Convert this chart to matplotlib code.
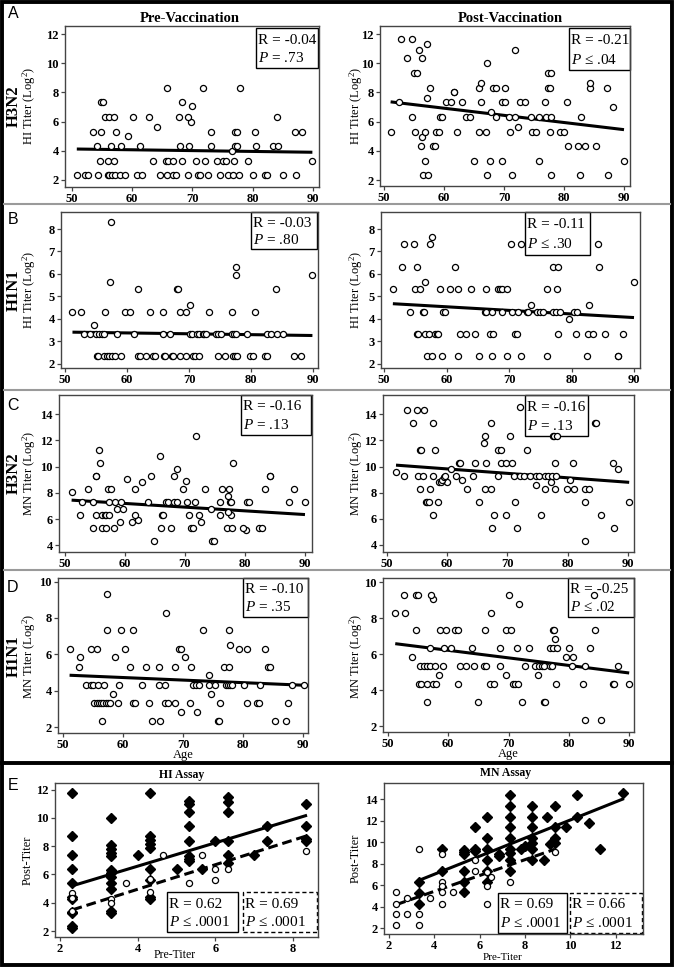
import numpy as np
import matplotlib
matplotlib.use("Agg")
import matplotlib.pyplot as plt
from matplotlib.patches import Rectangle
from matplotlib.lines import Line2D

plt.rcParams['font.family'] = ['Liberation Serif', 'DejaVu Serif']
plt.rcParams['mathtext.fontset'] = 'custom'
plt.rcParams['mathtext.rm'] = 'Liberation Serif'
plt.rcParams['mathtext.it'] = 'Liberation Serif:italic'
plt.rcParams['mathtext.bf'] = 'Liberation Serif:bold'

# ---------------- data (titer level -> ages) ----------------
hi_h3n2_pre = [
    (2.32, [50.8, 52.2, 52.6, 54.4, 55.9, 56.2, 56.6, 57.2, 58.0, 58.8, 60.8, 61.6, 64.6, 65.7, 66.8,
            67.2, 69.3, 70.9, 71.2, 72.6, 74.6, 75.9, 76.8, 77.8, 80.1, 82.0, 82.4, 85.1, 87.2]),
    (3.32, [54.7, 55.9, 57.0, 63.5, 65.6, 65.9, 66.7, 68.3, 70.6, 72.1, 74.1, 75.1, 75.6, 76.9, 79.2, 89.9]),
    (4.0, [76.6]),
    (4.32, [54.2, 56.5, 58.1, 61.3, 67.9, 69.5, 73.0, 77.1, 77.4, 80.5, 83.3, 84.2]),
    (5.0, [59.3]),
    (5.32, [53.5, 54.8, 57.3, 73.0, 77.0, 77.4, 80.3, 87.0, 88.1]),
    (5.6, [64.1]),
    (6.0, [69.8]),
    (6.32, [55.5, 56.1, 56.9, 60.1, 62.7, 67.8, 69.3, 84.0]),
    (7.1, [70.0]),
    (7.32, [54.8, 55.2, 68.3]),
    (8.32, [65.8, 71.8, 77.9]),
]
hi_h3n2_post = [
    (2.32, [56.5, 57.4, 67.1, 71.4, 77.9, 82.7, 87.4]),
    (3.32, [56.9, 65.0, 67.6, 69.6, 75.9, 90.0]),
    (4.3, [56.1, 58.1, 58.5, 80.6, 82.4, 83.5, 85.3]),
    (4.96, [56.3]),
    (5.32, [51.1, 55.1, 56.9, 58.6, 59.2, 62.1, 65.9, 67.0, 71.0, 74.7, 75.3, 77.6, 79.4, 80.0]),
    (5.6, [72.4]),
    (6.3, [54.7, 59.3, 59.7, 63.7, 64.4, 68.6, 70.8, 71.8, 74.5, 75.9, 77.0, 77.8, 82.8]),
    (6.64, [67.9]),
    (7.0, [88.1]),
    (7.33, [52.5, 60.4, 61.1, 63.0, 66.2, 69.6, 70.2, 72.7, 73.5, 76.9, 80.5]),
    (7.64, [57.2]),
    (8.0, [61.6, 61.7]),
    (8.3, [57.7, 65.9, 68.2, 68.7, 70.1, 77.4, 77.6, 84.3, 87.2]),
    (8.65, [66.1, 84.4]),
    (9.32, [55.0, 55.5, 77.4, 77.9]),
    (10.0, [67.1]),
    (10.34, [53.9, 56.4]),
    (10.94, [55.8, 71.8]),
    (11.3, [57.2]),
    (11.63, [52.9, 54.6]),
]
hi_h1n1_pre = [
    (2.32, [55.1, 55.3, 56.3, 56.7, 57.1, 57.6, 58.0, 59.1, 61.7, 62.1, 63.0, 64.2, 64.5, 65.9, 66.2, 67.2,
            67.4, 68.5, 69.5, 70.7, 70.9, 71.6, 74.7, 75.8, 77.1, 77.4, 77.8, 79.8, 80.3, 82.2, 82.5, 87.0, 88.0]),
    (3.32, [53.0, 54.0, 55.0, 55.4, 55.9, 56.3, 58.4, 61.1, 65.8, 67.0, 70.2, 70.5, 71.3, 71.6, 72.2, 72.4,
            72.7, 74.3, 74.7, 75.2, 77.0, 77.3, 77.5, 79.4, 82.5, 83.3, 84.2, 85.2]),
    (3.7, [54.7]),
    (4.32, [51.2, 52.6, 56.4, 59.6, 60.4, 63.7, 65.8, 68.5, 69.5, 73.3, 76.9, 80.6]),
    (4.62, [70.1]),
    (5.32, [61.7, 68.1, 68.2, 84.1]),
    (5.62, [57.2]),
    (5.95, [77.6, 89.9]),
    (6.3, [77.6]),
    (8.32, [57.4]),
]
hi_h1n1_post = [
    (2.32, [56.8, 57.7, 59.3, 61.8, 65.2, 67.3, 69.7, 71.9, 76.0, 82.5, 87.4, 87.5]),
    (3.32, [55.3, 55.4, 56.5, 57.2, 58.1, 58.4, 58.7, 62.1, 63.1, 64.5, 66.9, 67.5, 70.9, 71.2, 77.9,
            80.7, 82.7, 83.5, 85.4, 88.2]),
    (4.0, [79.6]),
    (4.32, [54.1, 56.2, 56.4, 59.5, 59.7, 66.2, 66.3, 67.3, 68.8, 70.5, 71.5, 72.8, 73.0, 74.4, 74.9,
            75.4, 77.1, 77.5, 78.2, 80.4, 80.8]),
    (4.62, [73.5, 82.8]),
    (5.32, [51.4, 54.9, 55.7, 58.9, 60.5, 61.8, 63.9, 66.3, 68.2, 68.6, 68.9, 69.7, 76.0, 77.6]),
    (5.62, [56.6, 90.0]),
    (6.32, [52.8, 55.3, 61.3, 77.0, 77.9, 84.4]),
    (7.32, [53.2, 54.8, 57.4, 70.3, 71.9, 84.3]),
    (7.64, [57.6]),
]
mn_h3n2_pre = [
    (4.3, [64.9, 74.5, 74.8]),
    (5.2, [80.2]),
    (5.3, [54.7, 56.2, 56.9, 58.1, 66.0, 67.7, 71.0, 71.4, 77.0, 77.9, 79.6, 82.3, 82.8]),
    (5.8, [59.2, 61.1, 72.7]),
    (5.96, [62.1]),
    (6.3, [52.5, 55.1, 56.2, 56.7, 56.9, 57.4, 61.7, 66.2, 66.3, 70.7, 72.3, 75.8, 77.7]),
    (6.55, [77.2]),
    (6.8, [58.6, 59.7, 74.4]),
    (7.3, [52.9, 54.6, 57.3, 58.3, 59.3, 63.8, 66.9, 67.1, 68.1, 68.6, 70.3, 71.7, 75.8, 77.5, 77.7,
           80.4, 80.7, 87.3, 90.0]),
    (7.8, [77.1]),
    (8.07, [51.1]),
    (8.3, [53.8, 57.1, 57.7, 61.6, 69.6, 73.4, 76.1, 77.4, 83.4, 88.2]),
    (8.8, [62.9]),
    (8.9, [70.1]),
    (9.04, [60.4]),
    (9.3, [55.1, 55.2, 64.3, 68.2, 84.1, 84.2]),
    (9.8, [68.6]),
    (10.3, [55.8, 78.0]),
    (10.8, [65.9]),
    (11.3, [55.6]),
    (12.32, [71.8]),
]
mn_h3n2_post = [
    (4.3, [82.9]),
    (5.3, [67.4, 71.6, 87.7]),
    (6.3, [57.7, 67.8, 69.8, 75.6, 85.5]),
    (7.3, [56.5, 56.7, 57.0, 58.4, 65.3, 71.3, 82.9, 90.2]),
    (8.3, [55.4, 57.2, 63.3, 66.2, 67.3, 76.2, 77.9, 79.8, 81.0, 82.8, 83.6]),
    (8.6, [74.7]),
    (8.8, [58.7, 60.0, 77.3]),
    (8.85, [59.0]),
    (8.97, [59.2, 62.5, 80.3]),
    (9.2, [59.5]),
    (9.3, [52.9, 55.1, 56.0, 57.6, 59.7, 61.5, 64.2, 68.4, 71.0, 72.0, 72.7, 73.8, 74.7, 75.2, 76.3,
           76.8, 77.4, 78.1]),
    (9.56, [51.5]),
    (9.82, [60.7, 88.3]),
    (10.3, [61.9, 62.1, 64.6, 66.5, 69.0, 69.8, 70.7, 77.9, 80.9, 87.5]),
    (11.3, [55.5, 55.6, 58.0, 68.4, 69.0, 73.3]),
    (11.8, [66.1]),
    (12.32, [66.3, 70.4, 77.5, 77.8, 78.3]),
    (13.3, [54.3, 57.6, 67.3, 84.6, 84.7]),
    (14.33, [53.3, 55.0, 56.2]),
    (14.55, [72.1]),
]
mn_h1n1_pre = [
    (2.32, [56.5, 64.9, 66.2, 75.8, 76.0, 85.3, 87.2]),
    (2.8, [69.6, 72.3]),
    (3.32, [55.2, 55.6, 56.0, 56.3, 56.7, 57.1, 57.5, 57.9, 59.2, 61.6, 62.0, 64.3, 67.0, 67.5, 68.6,
            71.1, 76.1, 80.6, 82.3, 82.7, 87.5]),
    (3.83, [58.4, 74.6]),
    (4.32, [53.8, 54.6, 55.0, 55.8, 56.9, 59.3, 63.1, 66.0, 67.0, 71.7, 72.2, 72.7, 74.4, 75.3, 77.1,
            77.5, 77.8, 78.2, 80.2, 82.8, 88.2, 90.1]),
    (4.84, [74.4]),
    (5.32, [52.6, 61.2, 63.9, 66.0, 68.6, 71.4, 76.9, 77.6, 84.2, 84.5]),
    (5.84, [52.9, 58.7, 70.3]),
    (6.3, [51.1, 54.6, 55.6, 60.4, 69.4, 69.7, 79.3, 80.7, 83.6]),
    (6.5, [77.8]),
    (7.32, [57.3, 59.6, 61.7, 73.4, 77.6]),
    (8.3, [67.1]),
    (9.34, [57.3]),
]
mn_h1n1_post = [
    (2.32, [82.7, 85.3]),
    (3.32, [56.5, 65.0, 72.3, 75.8, 76.0]),
    (4.32, [55.2, 55.5, 56.4, 57.4, 58.0, 61.6, 66.9, 67.6, 70.7, 71.0, 71.6, 77.9, 82.3, 87.3, 87.5, 90.0]),
    (4.84, [58.4, 69.6, 74.8]),
    (5.32, [55.3, 55.9, 56.4, 57.0, 57.8, 59.1, 62.0, 63.0, 64.3, 65.9, 66.2, 68.6, 72.7, 74.4, 75.0,
            75.5, 75.9, 76.8, 77.2, 80.5, 82.7, 88.1]),
    (5.84, [53.9, 79.5, 80.7]),
    (6.32, [56.9, 59.3, 60.4, 63.9, 68.6, 71.4, 73.4, 76.9, 77.3, 78.0, 80.1, 83.5]),
    (6.85, [77.7]),
    (7.32, [54.7, 58.7, 59.6, 61.1, 61.6, 66.1, 69.6, 70.4, 77.3, 77.5, 84.3]),
    (8.3, [51.2, 52.9, 67.1]),
    (8.8, [71.8]),
    (9.05, [57.4]),
    (9.3, [52.6, 54.6, 55.0, 57.2, 70.1, 84.1]),
]

# pre-titer -> post-titers (E panels)
hi_pp_diamond = [
    (2.32, [11.72, 8.7, 7.36, 6.35, 5.36, 4.4, 4.3, 3.34, 3.25, 2.35, 2.24]),
    (3.32, [10.0, 8.1, 7.8, 7.5, 7.3, 6.3, 6.1, 5.8, 5.4, 5.0, 3.4, 3.3]),
    (4.0, [7.36]),
    (4.32, [11.72, 8.7, 8.4, 8.16, 7.9, 6.35, 5.6, 4.4, 4.3]),
    (5.0, [6.35]),
    (5.32, [11.2, 11.0, 10.4, 9.4, 8.35, 7.3, 7.06, 6.95]),
    (5.65, [6.35]),
    (6.0, [8.35]),
    (6.32, [11.5, 11.1, 10.4, 8.35, 7.36, 6.8]),
    (7.0, [7.36]),
    (7.32, [9.4, 8.35]),
    (8.32, [11.0, 9.4, 8.47, 8.35]),
]
hi_pp_circle = [
    (2.32, [4.7, 4.35, 3.4]),
    (3.32, [4.3, 4.0]),
    (3.7, [5.4]),
    (4.32, [5.65, 4.75]),
    (4.65, [7.36]),
    (5.32, [5.36]),
    (5.65, [7.36]),
    (6.0, [6.35, 5.6]),
    (6.32, [6.35]),
    (8.32, [7.65]),
]
mn_pp_diamond = [
    (3.32, [6.33, 5.31, 4.23]),
    (4.32, [9.34, 7.32]),
    (5.32, [9.3, 9.1, 8.9, 7.32, 6.33, 5.4]),
    (5.8, [11.4, 9.34, 9.2]),
    (6.32, [12.37, 10.36, 9.34, 8.35, 7.32, 6.33]),
    (6.84, [8.9, 8.7]),
    (7.32, [14.38, 13.36, 12.37, 11.4, 10.36, 9.34, 8.96, 8.35, 7.32]),
    (7.84, [9.34]),
    (8.0, [9.65]),
    (8.32, [13.36, 12.37, 11.4, 10.36, 9.9, 9.34, 8.35]),
    (8.84, [8.35]),
    (8.96, [12.37]),
    (9.1, [9.85]),
    (9.32, [13.36, 11.4, 10.36, 9.9]),
    (9.8, [11.4]),
    (10.3, [14.38, 12.37]),
    (10.8, [11.8]),
    (11.32, [9.34]),
    (12.3, [14.6]),
]
mn_pp_circle = [
    (2.32, [5.4, 4.26, 3.33, 2.31]),
    (2.8, [4.79, 3.33]),
    (3.32, [9.34, 3.33, 2.31]),
    (3.8, [4.79]),
    (4.32, [8.87, 6.33, 5.93, 5.4, 4.26]),
    (4.84, [5.4]),
    (5.8, [8.35, 7.3]),
    (6.32, [7.26, 5.93, 4.3]),
    (6.5, [6.8]),
    (7.32, [6.33]),
    (9.32, [9.1]),
]

# regression lines: (slope, intercept)
fit_hi_h3n2 = [(-0.00564, 4.408), (-0.04897, 9.857)]
fit_hi_h1n1 = [(-0.00385, 3.596), (-0.01602, 5.492)]
fit_mn_h3n2 = [(-0.0282, 8.888), (-0.03402, 11.862)]
fit_mn_h1n1 = [(-0.0141, 5.569), (-0.04201, 8.731)]
fit_hi_pp = [(0.825, 3.286), (0.8667, 1.489)]
fit_mn_pp = [(0.8408, 3.659), (0.7357, 2.493)]

stats_age = [("-0.04", "= .73"), ("-0.21", "≤ .04"), ("-0.03", "= .80"), ("-0.11", "≤ .30"),
             ("-0.16", "= .13"), ("-0.16", "= .13"), ("-0.10", "= .35"), ("-0.25", "≤ .02")]
stats_pp = [("0.62", "≤ .0001"), ("0.69", "≤ .0001"), ("0.69", "≤ .0001"), ("0.66", "≤ .0001")]


def expand(groups):
    a, b = [], []
    for level, vals in groups:
        a += [level] * len(vals)
        b += list(vals)
    return np.array(a), np.array(b)


W, H = 674, 967
fig = plt.figure(figsize=(W / 100, H / 100), dpi=100)


def px_axes(l, t, r, b):
    return fig.add_axes([l / W, 1 - b / H, (r - l) / W, (b - t) / H])


def fx(x):
    return x / W


def fy(y):
    return 1 - y / H


def style(ax, xlim, ylim, xt, yt):
    ax.set_xlim(*xlim)
    ax.set_ylim(*ylim)
    ax.set_xticks(xt)
    ax.set_yticks(yt)
    for s in ax.spines.values():
        s.set_color('#444444')
        s.set_linewidth(1.0)
    ax.tick_params(length=3, width=0.9, pad=1.5, labelsize=9, color='#444444')
    ax.tick_params(axis='x', pad=1.0)
    for lab in ax.get_xticklabels() + ax.get_yticklabels():
        lab.set_fontweight('bold')


def stat_box(ax, l, t, r, b, rtxt, ptxt, ls='-'):
    rect = Rectangle((fx(l), fy(b)), fx(r - l), (b - t) / H, transform=fig.transFigure,
                     facecolor='white', edgecolor='black', lw=1.0, linestyle=ls,
                     clip_on=False, zorder=1.5)
    ax.add_patch(rect)
    h = b - t
    fig.text(fx(l + 2), fy(t + h * 0.3), "R = " + rtxt, fontsize=11, va='center', ha='left')
    fig.text(fx(l + 2), fy(t + h * 0.75), "$P$ " + ptxt, fontsize=11, va='center', ha='left')


def circles(ax, x, y):
    ax.plot(x, y, linestyle='none', marker='o', markersize=4.4, mfc='white', mec='black',
            mew=0.9, zorder=3)


# ---- age panels ----
age_panels = [
    (hi_h3n2_pre, fit_hi_h3n2[0], (65, 26, 319, 187), (48.84, 91.0), (1.52, 12.55), np.arange(2, 13, 2), (256, 28, 318, 68)),
    (hi_h3n2_post, fit_hi_h3n2[1], (380, 26, 630, 186), (49.33, 91.0), (1.59, 12.55), np.arange(2, 13, 2), (569, 28, 630, 70)),
    (hi_h1n1_pre, fit_hi_h1n1[0], (61, 212, 318, 368), (49.35, 90.8), (1.8, 8.76), np.arange(2, 9, 1), (251, 212, 317, 249)),
    (hi_h1n1_post, fit_hi_h1n1[1], (381, 212, 640, 368), (49.5, 90.96), (1.8, 8.76), np.arange(2, 9, 1), (525, 212, 590, 255)),
    (mn_h3n2_pre, fit_mn_h3n2[0], (59, 395, 312, 552), (49.0, 91.17), (3.5, 15.45), np.arange(4, 15, 2), (241, 395, 311, 435)),
    (mn_h3n2_post, fit_mn_h3n2[1], (383, 395, 634, 552), (49.34, 91.0), (3.46, 15.48), np.arange(4, 15, 2), (525, 395, 588, 436)),
    (mn_h1n1_pre, fit_mn_h1n1[0], (58, 578, 308, 733), (49.17, 90.83), (1.67, 10.2), np.arange(2, 11, 2), (243, 578, 308, 617)),
    (mn_h1n1_post, fit_mn_h1n1[1], (383, 578, 634, 732), (49.17, 90.8), (1.67, 10.23), np.arange(2, 11, 2), (568, 578, 634, 617)),
]

for i, (grp, fit, rect, xl, yl, yt, box) in enumerate(age_panels):
    ax = px_axes(*rect)
    titer, age = expand(grp)
    circles(ax, age, titer)
    xs = np.array([age.min(), age.max()])
    ax.plot(xs, fit[0] * xs + fit[1], color='black', lw=2.2, zorder=2.5, solid_capstyle='butt')
    style(ax, xl, yl, [50, 60, 70, 80, 90], yt)
    stat_box(ax, *box, *stats_age[i])

# ---- pre vs post panels ----
pp_panels = [
    (hi_pp_diamond, hi_pp_circle, fit_hi_pp, (55, 783, 318, 937), (1.87, 8.64), (1.58, 12.46),
     [2, 4, 6, 8], np.arange(2, 13, 2), [(167, 892, 238, 932), (243, 892, 317, 932)], stats_pp[0:2]),
    (mn_pp_diamond, mn_pp_circle, fit_mn_pp, (384, 783, 643, 934), (1.78, 13.2), (1.47, 15.5),
     [2, 4, 6, 8, 10, 12], np.arange(2, 15, 2), [(498, 893, 567, 933), (570, 893, 642, 933)], stats_pp[2:4]),
]
for dia, cir, fits, rect, xl, yl, xt, yt, boxes, st in pp_panels:
    ax = px_axes(*rect)
    px, py = expand(dia)
    ax.plot(px, py, linestyle='none', marker='D', markersize=4.7, color='black', zorder=3)
    cx, cy = expand(cir)
    circles(ax, cx, cy)
    xs = np.array([px.min(), px.max()])
    ax.plot(xs, fits[0][0] * xs + fits[0][1], color='black', lw=2.2, zorder=2.5)
    xs = np.array([cx.min(), cx.max()])
    ax.plot(xs, fits[1][0] * xs + fits[1][1], color='black', lw=2.2, zorder=2.5,
            linestyle=(0, (3.2, 1.6)))
    style(ax, xl, yl, xt, yt)
    stat_box(ax, *boxes[0], *st[0], ls='-')
    stat_box(ax, *boxes[1], *st[1], ls=(0, (3, 2)))

# ---- text labels ----
fig.text(fx(190), fy(18), "Pre-Vaccination", fontsize=10.5, fontweight='bold', ha='center', va='center')
fig.text(fx(510), fy(18), "Post-Vaccination", fontsize=10.5, fontweight='bold', ha='center', va='center')
fig.text(fx(182), fy(775), "HI Assay", fontsize=8.5, fontweight='bold', ha='center', va='center')
fig.text(fx(506), fy(773), "MN Assay", fontsize=8.5, fontweight='bold', ha='center', va='center')

row_labels = [("H3N2", "HI", 106), ("H1N1", "HI", 290), ("H3N2", "MN", 473), ("H1N1", "MN", 656)]
for grp_name, assay, yc in row_labels:
    fig.text(fx(14), fy(yc), grp_name, fontsize=12, fontweight='bold', rotation=90, ha='center', va='center')
    fig.text(fx(29), fy(yc), assay + " Titer (Log$^{2}$)", fontsize=9, rotation=90, ha='center', va='center')
    fig.text(fx(356), fy(yc), assay + " Titer (Log$^{2}$)", fontsize=9, rotation=90, ha='center', va='center')

fig.text(fx(183), fy(755), "Age", fontsize=9, ha='center', va='center')
fig.text(fx(508), fy(754), "Age", fontsize=9, ha='center', va='center')
fig.text(fx(175), fy(955), "Pre-Titer", fontsize=8.5, ha='center', va='center')
fig.text(fx(503), fy(958), "Pre-Titer", fontsize=8, ha='center', va='center')
fig.text(fx(28), fy(860), "Post-Titer", fontsize=9, rotation=90, ha='center', va='center')
fig.text(fx(356), fy(858), "Post-Titer", fontsize=9, rotation=90, ha='center', va='center')

for letter, yc in [("A", 14), ("B", 220), ("C", 405), ("D", 587), ("E", 785)]:
    fig.text(fx(13), fy(yc), letter, fontsize=11.5, family='Liberation Sans', ha='center', va='center')

# ---- separators and frame ----
for yc in [204, 390, 570]:
    fig.add_artist(Line2D([fx(4), fx(670)], [fy(yc), fy(yc)], color='#9a9a9a', lw=1.5))
fig.add_artist(Line2D([fx(2), fx(672)], [fy(763), fy(763)], color='black', lw=2.8))
fig.add_artist(Rectangle((fx(2), fy(965)), fx(670), 963 / H, transform=fig.transFigure,
                         fill=False, edgecolor='black', lw=2.8))

fig.savefig("out.png", dpi=100)
